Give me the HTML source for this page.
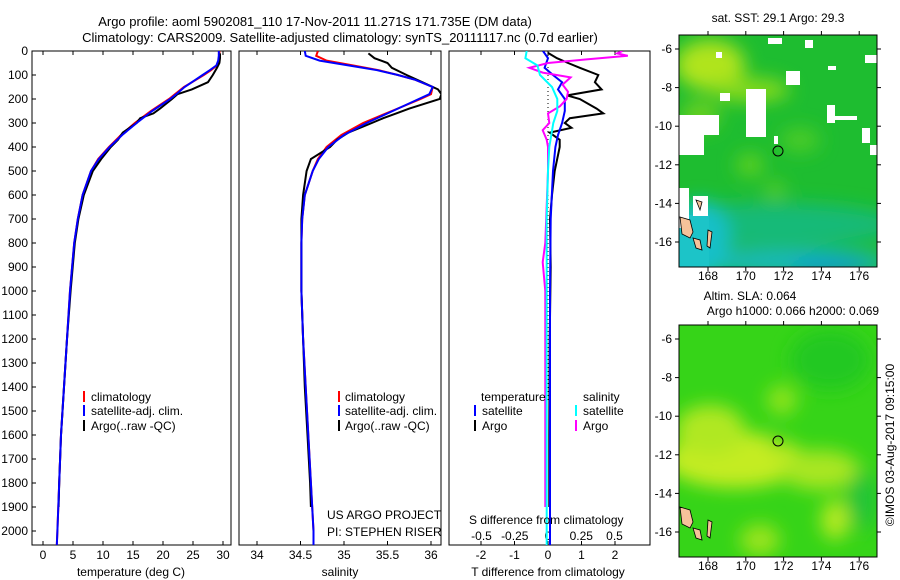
<!DOCTYPE html>
<html><head><meta charset="utf-8"><style>
body{margin:0;background:#fff}
svg{display:block;font-family:"Liberation Sans",sans-serif;font-size:12px}
</style></head><body>
<svg id="c" width="900" height="580" xmlns="http://www.w3.org/2000/svg">
<defs>
<filter id="bl" x="-50%" y="-50%" width="200%" height="200%"><feGaussianBlur stdDeviation="9"/></filter>
<clipPath id="m1"><rect x="679" y="35" width="198" height="232"/></clipPath>
<clipPath id="m2"><rect x="679" y="325" width="198" height="232"/></clipPath>
<clipPath id="p1"><rect x="32" y="51" width="199" height="494"/></clipPath>
<clipPath id="p2"><rect x="239" y="51" width="202" height="494"/></clipPath>
<clipPath id="p3"><rect x="449" y="51" width="201" height="494"/></clipPath>
</defs>
<text x="315" y="26" text-anchor="middle" font-size="13">Argo profile: aoml 5902081_110 17-Nov-2011 11.271S 171.735E (DM data)</text>
<text x="340" y="42" text-anchor="middle" font-size="13">Climatology: CARS2009. Satellite-adjusted climatology: synTS_20111117.nc (0.7d earlier)</text>
<g id="frames"></g>
<g id="series"></g>
<!-- map 1 -->
<g clip-path="url(#m1)">
<rect x="679" y="35" width="198" height="232" fill="#1ebd30"/>
<g filter="url(#bl)">
<ellipse cx="710" cy="65" rx="35" ry="25" fill="#b0e41a"/>
<ellipse cx="750" cy="90" rx="40" ry="12" fill="#86da1c"/>
<ellipse cx="700" cy="115" rx="20" ry="15" fill="#66d020"/>
<ellipse cx="770" cy="225" rx="130" ry="22" fill="#18ba78"/>
<ellipse cx="790" cy="262" rx="100" ry="12" fill="#14b8c0"/>
<ellipse cx="830" cy="266" rx="40" ry="6" fill="#1090e0"/>
<ellipse cx="700" cy="240" rx="30" ry="40" fill="#18c0c8"/>
<ellipse cx="800" cy="140" rx="20" ry="12" fill="#4ccc26"/>
<ellipse cx="750" cy="165" rx="14" ry="12" fill="#5cd020"/>
<ellipse cx="775" cy="190" rx="10" ry="8" fill="#60d020"/>
</g>
<rect x="679" y="215" width="30" height="52" fill="#1cc4c8"/>
<g fill="#fff">
<rect x="768" y="38" width="14" height="6"/><rect x="805" y="40" width="8" height="8"/>
<rect x="716" y="52" width="6" height="6"/><rect x="786" y="71" width="14" height="14"/>
<rect x="746" y="89" width="20" height="48"/><rect x="720" y="93" width="10" height="8"/>
<rect x="679" y="115" width="40" height="20"/><rect x="679" y="125" width="25" height="30"/>
<rect x="827" y="105" width="8" height="18"/><rect x="827" y="116" width="30" height="4"/>
<rect x="862" y="128" width="8" height="15"/><rect x="870" y="145" width="7" height="10"/>
<rect x="865" y="55" width="12" height="8"/><rect x="828" y="66" width="8" height="4"/>
<rect x="679" y="188" width="10" height="40"/><rect x="693" y="196" width="15" height="20"/>
<rect x="774" y="136" width="4" height="8"/>
</g>
<g fill="#f6c29a" stroke="#000" stroke-width="0.8">
<path d="M680 217 L690 220 L693 232 L690 238 L682 234 Z"/><path d="M693 238 L700 240 L702 250 L696 248 Z"/><path d="M708 230 L712 232 L710 248 L707 246 Z"/><path d="M696 200 L702 202 L700 210 Z"/>
</g>
<circle cx="778" cy="151" r="5" fill="none" stroke="#000"/>
</g>
<rect x="679" y="35" width="198" height="232" fill="none" stroke="#000"/>
<text x="778" y="22" text-anchor="middle">sat. SST: 29.1  Argo: 29.3</text>
<!-- map 2 -->
<g clip-path="url(#m2)">
<rect x="679" y="325" width="198" height="232" fill="#36d418"/>
<g filter="url(#bl)">
<ellipse cx="735" cy="460" rx="70" ry="28" fill="#c4ec20"/>
<ellipse cx="710" cy="430" rx="35" ry="25" fill="#b0e820"/>
<ellipse cx="820" cy="470" rx="40" ry="20" fill="#a8e620"/>
<ellipse cx="782" cy="400" rx="15" ry="15" fill="#8ee41c"/>
<ellipse cx="835" cy="520" rx="14" ry="20" fill="#b6ea20"/>
<ellipse cx="760" cy="540" rx="20" ry="16" fill="#9ae41e"/>
<ellipse cx="862" cy="500" rx="15" ry="30" fill="#20c438"/>
<ellipse cx="830" cy="360" rx="40" ry="30" fill="#24c820"/>
<ellipse cx="778" cy="441" rx="8" ry="8" fill="#5cd81c"/>
</g>
<g fill="#f6c29a" stroke="#000" stroke-width="0.8">
<path d="M680 507 L690 510 L693 522 L690 528 L682 524 Z"/><path d="M693 528 L700 530 L702 540 L696 538 Z"/><path d="M708 520 L712 522 L710 538 L707 536 Z"/>
</g>
<circle cx="778" cy="441" r="5" fill="none" stroke="#000"/>
</g>
<rect x="679" y="325" width="198" height="232" fill="none" stroke="#000"/>
<text x="750" y="300" text-anchor="middle">Altim. SLA: 0.064</text>
<text x="793" y="315" text-anchor="middle">Argo h1000: 0.066  h2000: 0.069</text>
<g id="maps"></g>
<text transform="translate(894,445) rotate(-90)" text-anchor="middle">©IMOS 03-Aug-2017 09:15:00</text>
<!-- legends -->
<g>
<rect x="83" y="391" width="2" height="11" fill="#f00"/><text x="91" y="401">climatology</text>
<rect x="83" y="405" width="2" height="11" fill="#00f"/><text x="91" y="415">satellite-adj. clim.</text>
<rect x="83" y="420" width="2" height="11" fill="#000"/><text x="91" y="430">Argo(..raw -QC)</text>
</g>
<g>
<rect x="338" y="391" width="2" height="11" fill="#f00"/><text x="345" y="401">climatology</text>
<rect x="338" y="405" width="2" height="11" fill="#00f"/><text x="345" y="415">satellite-adj. clim.</text>
<rect x="338" y="420" width="2" height="11" fill="#000"/><text x="345" y="430">Argo(..raw -QC)</text>
</g>
<g>
<text x="481" y="401">temperature</text><text x="583" y="401">salinity</text>
<rect x="474" y="405" width="2" height="11" fill="#00f"/><text x="482" y="415">satellite</text>
<rect x="474" y="420" width="2" height="11" fill="#000"/><text x="482" y="430">Argo</text>
<rect x="575" y="405" width="2" height="11" fill="#0ff"/><text x="583" y="415">satellite</text>
<rect x="575" y="420" width="2" height="11" fill="#f0f"/><text x="583" y="430">Argo</text>
</g>
<text x="327" y="519">US ARGO PROJECT</text>
<text x="327" y="536">PI: STEPHEN RISER</text>
<text x="469" y="524">S difference from climatology</text>
</svg>
<script>
// depth levels (m)
const depthTicks=[0,100,200,300,400,500,600,700,800,900,1000,1100,1200,1300,1400,1500,1600,1700,1800,1900,2000];
const tempTicks=[0,5,10,15,20,25,30];
const salTicks=[34,34.5,35,35.5,36];
const tdTicks=[-2,-1,0,1,2];
const sdTicks=[-0.5,-0.25,0,0.25,0.5];
const sdTickLabels=["-0.5","-0.25","0","0.25","0.5"];
// profiles
const climDepth=[0,20,40,60,80,100,120,150,180,200,250,300,350,400,450,500,600,700,800,1000,1200,1400,1600,1800,2000,2060];
const tempClim=[29.4,29.4,29.3,29.0,28.0,26.8,25.5,23.5,22.0,21.0,18.0,15.3,13.0,11.0,9.2,8.0,6.6,5.8,5.2,4.5,4.0,3.5,3.0,2.7,2.4,2.3];
const tempSat=[29.3,29.3,29.2,28.9,27.8,26.6,25.4,23.6,22.2,21.2,18.2,15.6,13.2,11.1,9.3,8.0,6.6,5.8,5.2,4.5,4.0,3.5,3.0,2.7,2.4,2.3];
const salClim=[34.70,34.68,34.80,35.10,35.40,35.62,35.82,36.02,36.00,35.88,35.55,35.22,34.97,34.80,34.70,34.64,34.55,34.52,34.51,34.51,34.53,34.56,34.59,34.62,34.65,34.65];
const salSat=[34.55,34.56,34.72,35.05,35.38,35.62,35.82,36.02,35.98,35.86,35.56,35.26,35.00,34.82,34.71,34.64,34.55,34.52,34.51,34.51,34.53,34.56,34.59,34.62,34.65,34.65];
const argoDepth=[10,30,50,70,100,130,160,180,200,240,260,280,300,340,370,400,450,500,600,700,800,1000,1200,1400,1600,1800,1900];
const tempArgo=[29.5,29.5,29.4,29.0,28.3,27.5,24.8,22.4,21.5,19.5,18.4,16.2,15.6,13.3,12.5,11.3,9.7,8.3,6.8,5.9,5.3,4.6,4.0,3.5,3.0,2.7,2.6];
const salArgo=[35.28,35.35,35.50,35.55,35.72,35.90,36.08,36.12,36.10,35.75,35.60,35.45,35.32,35.05,34.92,34.84,34.62,34.57,34.53,34.51,34.51,34.51,34.53,34.55,34.58,34.61,34.62];
// differences
const tdSatDepth=[0,30,70,100,130,160,200,250,300,350,400,500,700,1000,1500,2060];
const tdSat=[-0.15,0,-0.1,0.15,0.42,0.3,0.5,0.5,0.42,0.3,0.22,0.15,0.08,0.06,0.06,0.06];
const tdArgoDepth=[8,30,50,70,100,130,160,185,200,240,260,280,300,320,340,370,400,500,600,700,900,1200,1600,1900];
const tdArgo=[0,0.27,0.6,0.95,1.5,1.4,1.6,0.57,0.95,1.45,1.65,0.65,0.5,0.7,0.05,0.35,0.35,0.2,0.12,0.06,0.08,0.05,0.04,0.04];
const sdSatDepth=[0,30,60,100,150,200,250,300,400,500,700,1000,1500,2060];
const sdSat=[-0.16,-0.17,-0.08,-0.06,0.03,0.07,0.07,0.04,0.01,0,-0.01,-0.01,-0.01,-0.01];
const sdArgoDepth=[0,10,20,35,50,70,90,110,140,170,200,230,260,300,330,370,400,500,800,880,1000,1500,1900];
const sdArgo=[0.56,0.52,0.6,0.29,0,-0.14,-0.04,0.17,0.11,0.15,0.14,0.09,0,0.01,-0.04,-0.01,0,0,-0.02,-0.04,-0.02,-0.02,-0.02];

const NS="http://www.w3.org/2000/svg";
const svg=document.getElementById('c');
const G=document.getElementById('series');
const F=document.getElementById('frames');
function mk(t,a,p){const e=document.createElementNS(NS,t);for(const k in a)e.setAttribute(k,a[k]);(p||svg).appendChild(e);return e;}
const yD=d=>51+0.24*d;
const xT=t=>43+6.0*t;
const xS=s=>257+87*(s-34);
const xTD=v=>548+33.5*v;
const xSD=v=>548+133*v;
const panels=[[32,231],[239,441],[449,650]];
panels.forEach((p,i)=>{
  const r=mk('rect',{x:p[0],y:51,width:p[1]-p[0],height:494,fill:'none',stroke:'#000'},F);
  
  
});
// depth axis
depthTicks.forEach(d=>{
  const t=mk('text',{x:28,y:yD(d)+4,'text-anchor':'end'},F);t.textContent=d;
  
  
  mk('line',{x1:32,x2:36,y1:yD(d),y2:yD(d),stroke:'#000'},F);
});
function xAxis(ticks,labels,fx,yl,top){
  ticks.forEach((v,i)=>{
    const x=fx(v);
    mk('line',{x1:x,x2:x,y1:545,y2:541,stroke:'#000'},F);
    if(top) mk('line',{x1:x,x2:x,y1:51,y2:55,stroke:'#000'},F);
    const t=mk('text',{x:x,y:yl,'text-anchor':'middle'},F);t.textContent=labels[i];
    
    
  });
}
xAxis(tempTicks,tempTicks.map(String),xT,559,true);
xAxis(salTicks,salTicks.map(String),xS,559,true);
xAxis(tdTicks,tdTicks.map(String),xTD,559,true);
sdTicks.forEach((v,i)=>{
  const t=mk('text',{x:xSD(v),y:540,'text-anchor':'middle'},F);t.textContent=sdTickLabels[i];
  
  
});
[['temperature (deg C)',131],['salinity',340],['T difference from climatology',548]].forEach(a=>{
  const t=mk('text',{x:a[1],y:576,'text-anchor':'middle'},F);t.textContent=a[0];
  
  
});
// zero line in diff panel
const zl=mk('line',{x1:548,x2:548,y1:51,y2:400,stroke:'#000','stroke-dasharray':'1,3'},F);


function line(depths,vals,fx,col,clip,name){
  const pts=depths.map((d,i)=>fx(vals[i]).toFixed(1)+','+yD(d).toFixed(1)).join(' ');
  const e=mk('polyline',{points:pts,fill:'none',stroke:col,'stroke-width':2,'clip-path':'url(#'+clip+')'},G);
  
  
}
line(climDepth,tempClim,xT,'#f00','p1','temp-climatology-line');
line(argoDepth,tempArgo,xT,'#000','p1','temp-argo-line');
line(climDepth,tempSat,xT,'#00f','p1','temp-satellite-line');
line(climDepth,salClim,xS,'#f00','p2','sal-climatology-line');
line(argoDepth,salArgo,xS,'#000','p2','sal-argo-line');
line(climDepth,salSat,xS,'#00f','p2','sal-satellite-line');
line(tdArgoDepth,tdArgo,xTD,'#000','p3','tdiff-argo-line');
line(tdSatDepth,tdSat,xTD,'#00f','p3','tdiff-satellite-line');
line(sdArgoDepth,sdArgo,xSD,'#f0f','p3','sdiff-argo-line');
line(sdSatDepth,sdSat,xSD,'#0ff','p3','sdiff-satellite-line');
// map axes
const M=document.getElementById('maps');
const lons=[168,170,172,174,176], lats=[-6,-8,-10,-12,-14,-16];
[[35,49,280],[325,339,570]].forEach(m=>{
  lons.forEach(l=>{
    const x=708+(l-168)*18.9;
    mk('line',{x1:x,x2:x,y1:m[0],y2:m[0]-4,stroke:'#000'},M);
    mk('line',{x1:x,x2:x,y1:m[0]+232,y2:m[0]+236,stroke:'#000'},M);
    const t=mk('text',{x:x,y:m[2],'text-anchor':'middle'},M);t.textContent=l;
    
    
  });
  lats.forEach(l=>{
    const y=m[1]+(-6-l)*19.3;
    mk('line',{x1:679,x2:675,y1:y,y2:y,stroke:'#000'},M);
    mk('line',{x1:877,x2:881,y1:y,y2:y,stroke:'#000'},M);
    const t=mk('text',{x:672,y:y+4,'text-anchor':'end'},M);t.textContent=l;
    
    
  });
});
</script>
</body></html>
